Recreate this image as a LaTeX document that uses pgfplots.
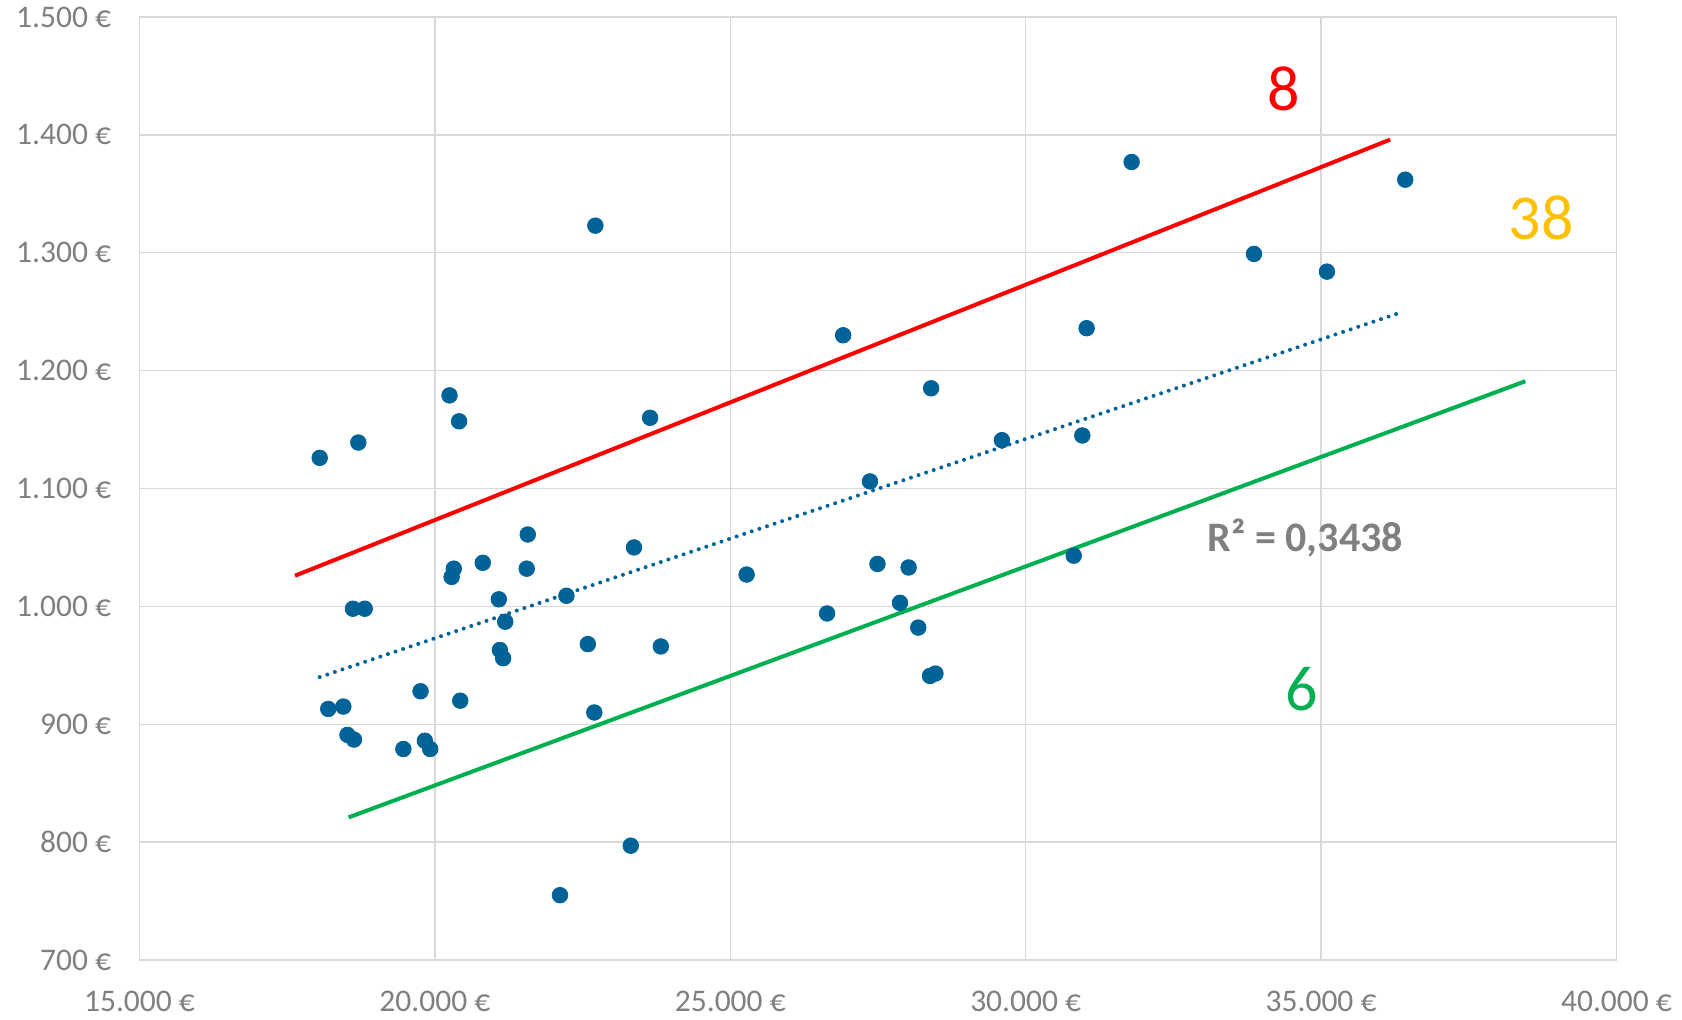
\documentclass[border=0pt]{standalone}
\usepackage{pgfplots}
\pgfplotsset{compat=1.18}
\usepackage{fontspec}
\setmainfont{Carlito}
\definecolor{ptblue}{RGB}{0,99,152}
\definecolor{gridgray}{RGB}{217,217,217}
\definecolor{labelgray}{RGB}{128,128,128}
\definecolor{xlred}{RGB}{255,0,0}
\definecolor{xlgreen}{RGB}{0,176,80}
\definecolor{xlorange}{RGB}{255,192,0}
\begin{document}
\begin{tikzpicture}
\path[use as bounding box] (0,0) rectangle (841pt,509.5pt);
\begin{axis}[
  at={(69.75pt,29.5pt)}, anchor=south west,
  scale only axis, width=738.5pt, height=471.5pt,
  xmin=15000, xmax=40000, ymin=700, ymax=1500,
  xtick={15000,20000,25000,30000,35000,40000},
  ytick={700,800,900,1000,1100,1200,1300,1400,1500},
  xticklabels={15.000 €,20.000 €,25.000 €,30.000 €,35.000 €,40.000 €},
  yticklabels={700 €,800 €,900 €,1.000 €,1.100 €,1.200 €,1.300 €,1.400 €,1.500 €},
  grid=major,
  major grid style={draw=gridgray, line width=0.7pt},
  axis line style={draw=gridgray, line width=0.7pt},
  major tick length=0pt,
  tick label style={font=\fontsize{15.75}{18}\selectfont, text=labelgray, inner sep=0pt},
  xticklabel style={yshift=-15.3pt},
  yticklabel style={xshift=-14pt},
  clip=false,
]
% trend line (dotted)
\addplot[ptblue, line width=2pt, line cap=round, dash pattern=on 0pt off 4pt]
  coordinates {(18050,940) (36387,1250)};
% data points
\addplot[only marks, mark=*, mark size=3.9pt, color=ptblue, fill=ptblue] coordinates {
(18050,1126) (18195,913) (18450,915) (18520,891) (18630,887) (18613,998)
(18812,998) (18704,1139) (19466,879) (19757,928) (19830,886) (19920,879)
(20247,1179) (20410,1157) (20283,1025) (20320,1032) (20429,920) (20810,1037)
(21082,1006) (21190,987) (21100,963) (21155,956) (21572,1061) (21554,1032)
(22226,1009) (22117,755) (22589,968) (22698,910) (22716,1323) (23315,797)
(23370,1050) (23642,1160) (23824,966) (25276,1027) (26638,994) (26910,1230)
(27364,1106) (27491,1036) (28018,1033) (27872,1003) (28181,982) (28399,1185)
(28381,941) (28472,943) (29597,1141) (30813,1043) (30958,1145) (31031,1236)
(31793,1377) (33864,1299) (35099,1284) (36424,1362)
};
% red and green bounding lines
\addplot[xlred, line width=2pt] coordinates {(17632,1026) (36169,1396)};
\addplot[xlgreen, line width=2pt] coordinates {(18540,821) (38457,1191)};
% annotations
\node[text=xlred, font=\fontsize{32}{38}\selectfont] at (axis cs:34371,1439) {8};
\node[text=xlorange, font=\fontsize{32}{38}\selectfont] at (axis cs:38729,1330) {38};
\node[text=xlgreen, font=\fontsize{32}{38}\selectfont] at (axis cs:34680,930) {6};
\node[text=labelgray, font=\fontsize{21}{25}\selectfont\bfseries] at (axis cs:34735,1058) {R² = 0,3438};
\end{axis}
\end{tikzpicture}
\end{document}
